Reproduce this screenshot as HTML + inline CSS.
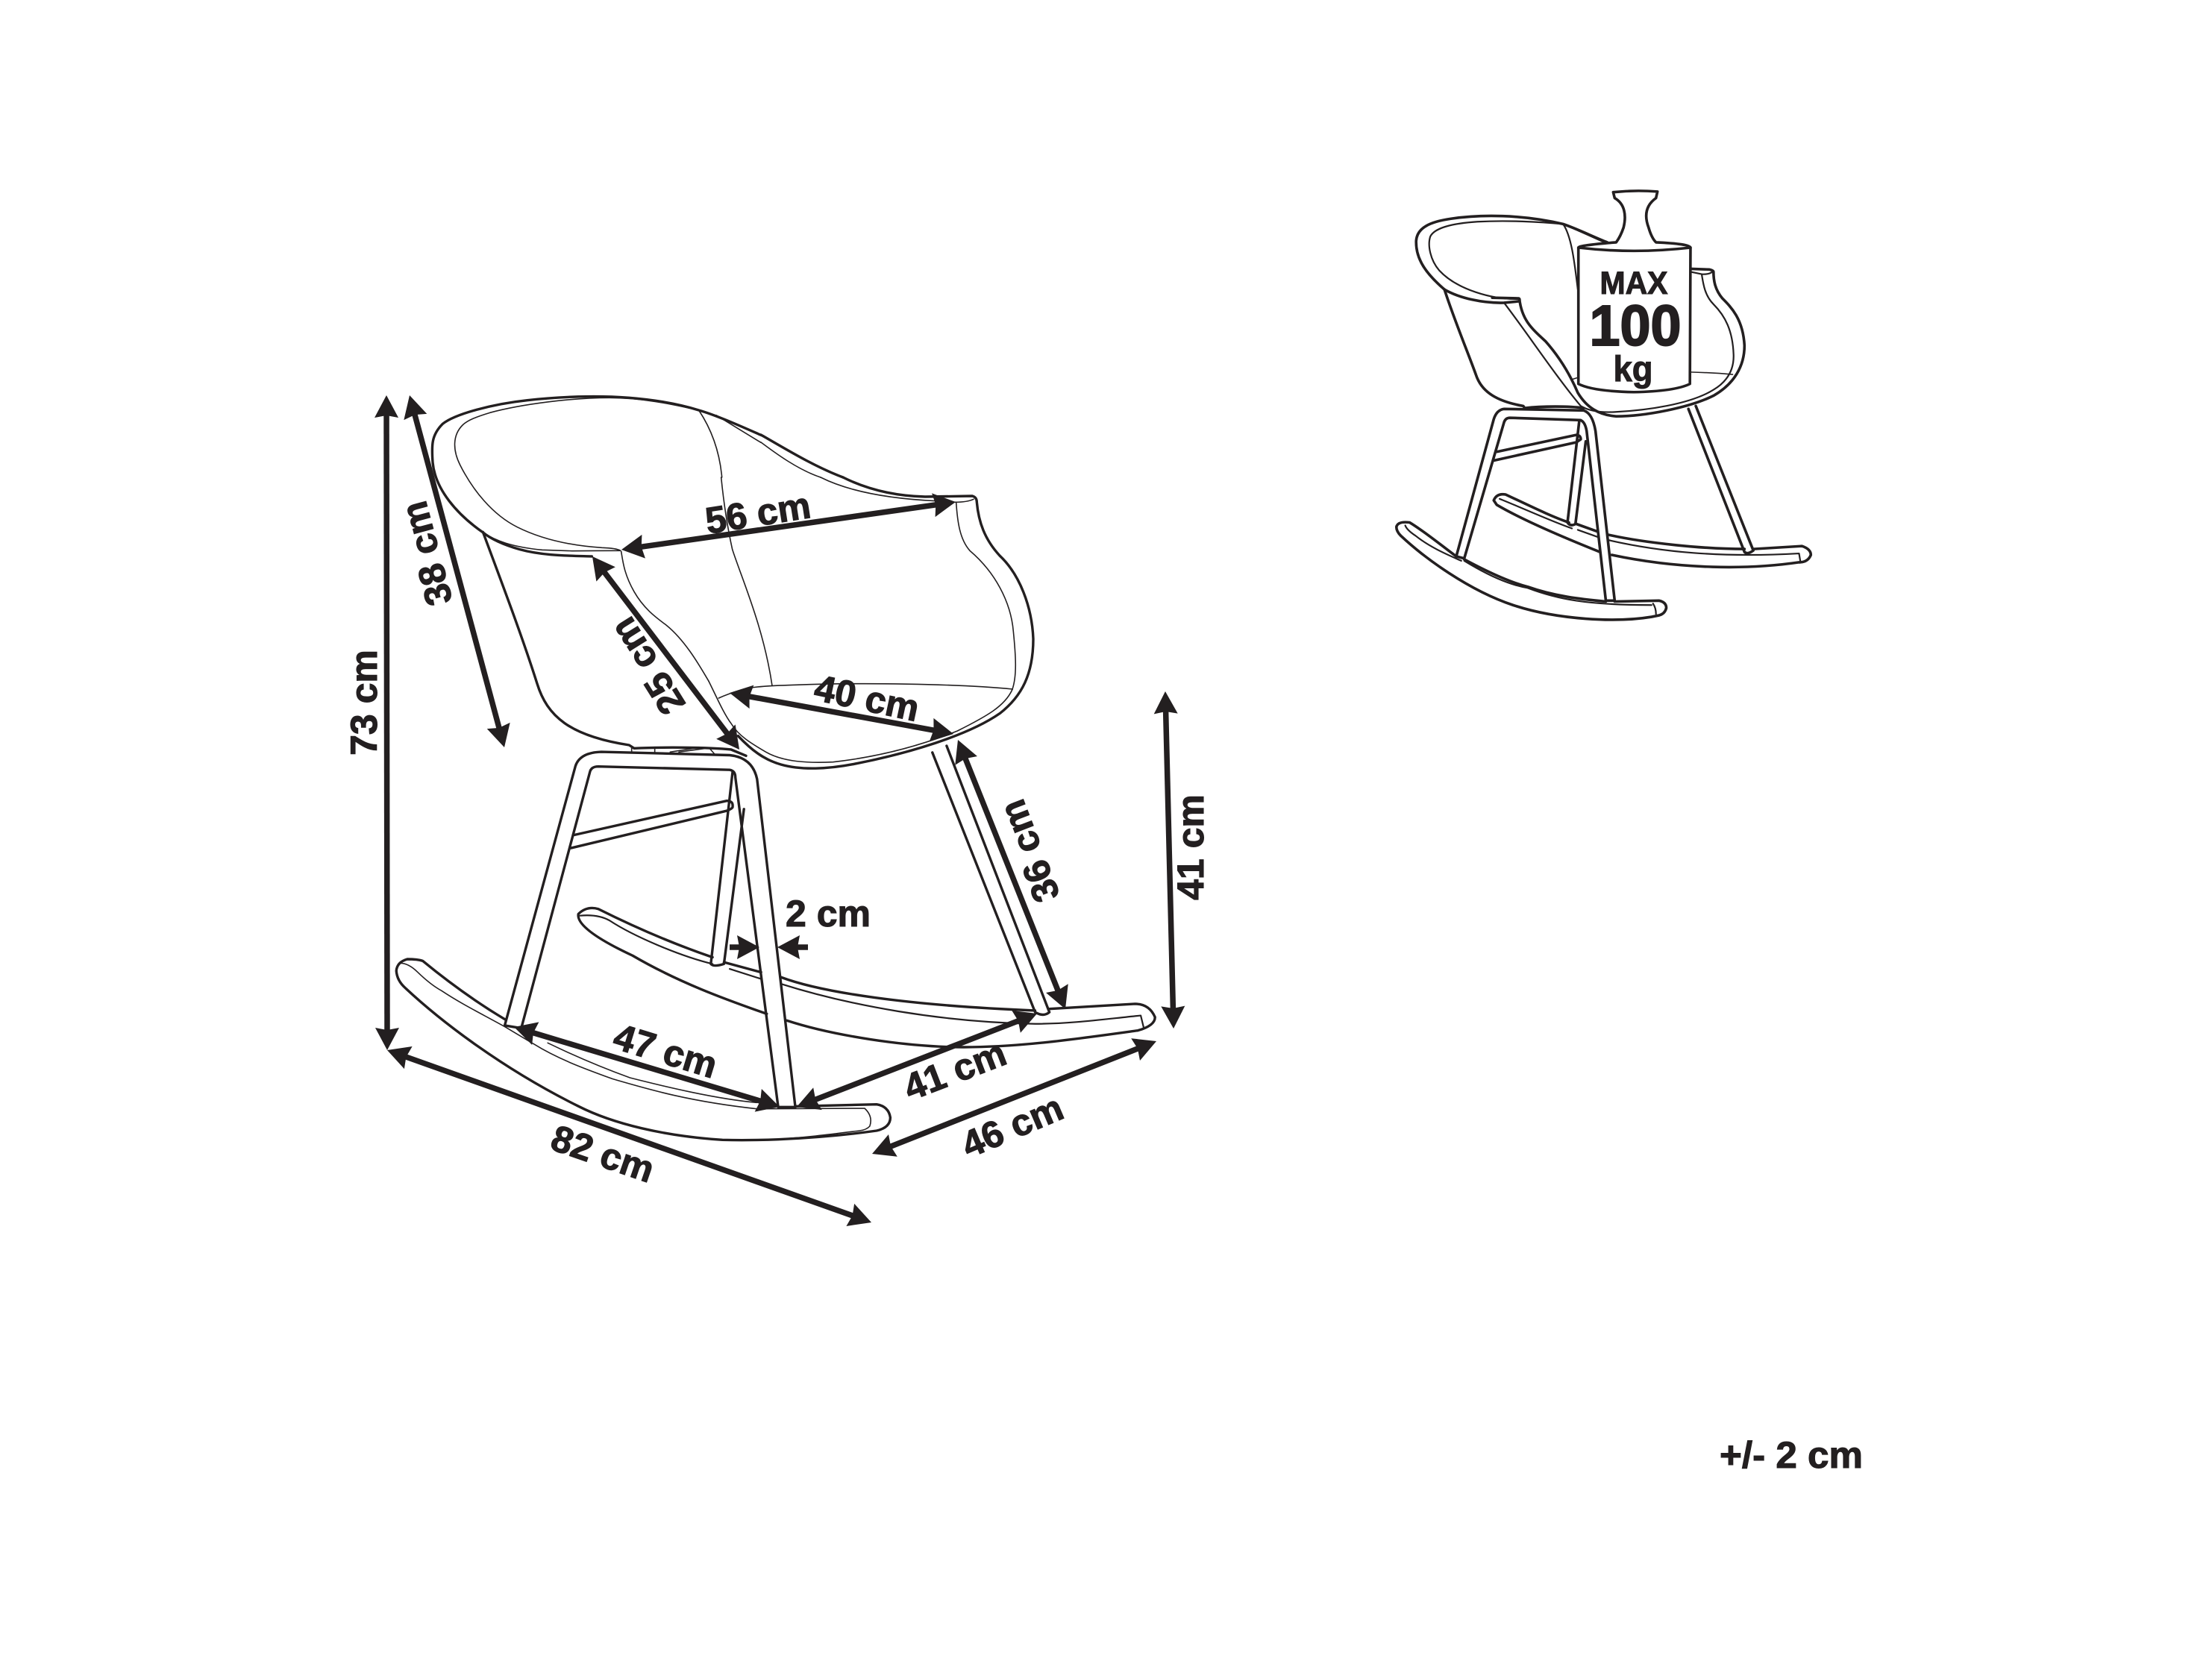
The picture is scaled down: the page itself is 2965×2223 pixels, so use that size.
<!DOCTYPE html>
<html>
<head>
<meta charset="utf-8">
<style>
html,body{margin:0;padding:0;background:#fff;width:2965px;height:2223px;overflow:hidden}
svg{display:block}
.o,.t,.s,.u{fill:none;stroke:#231f20;stroke-linecap:round;stroke-linejoin:round;vector-effect:non-scaling-stroke}
.o{stroke-width:3.4}
.t{stroke-width:1.6}
.s{stroke-width:3.6}
.u{stroke-width:2.2}
.a{stroke:#231f20;stroke-width:7.5;fill:none;marker-start:url(#h);marker-end:url(#h)}
.b{stroke:#231f20;stroke-width:7.5;fill:none;marker-end:url(#h)}
text{font-family:"Liberation Sans",sans-serif;font-weight:700;font-size:50px;fill:#231f20;stroke:#231f20;stroke-width:1.1px;text-anchor:middle}
</style>
</head>
<body>
<svg xmlns="http://www.w3.org/2000/svg" width="2965" height="2223" viewBox="0 0 2965 2223">
<defs>
<marker id="h" markerUnits="userSpaceOnUse" markerWidth="32" markerHeight="34" refX="20" refY="16" orient="auto-start-reverse" overflow="visible">
<path d="M0,0 L30,16 L0,32 L3,16 Z" fill="#231f20"/>
</marker>
</defs>
<rect width="2965" height="2223" fill="#fff"/>

<!-- Main chair shell, left part -->
<g transform="translate(500 500) scale(.33333)">
<path class="o" d="M880,738 C780,735 680,735 590,710 C520,690 470,665 440,640 C340,570 250,470 240,360 C235,290 235,250 280,205 C330,165 480,125 620,110 C750,95 900,90 1030,100 C1130,108 1230,125 1310,150 C1380,170 1480,215 1560,250"/>
<path class="t" d="M995,715 Q980,705 920,703 C800,695 680,670 580,620 C480,570 400,470 350,370 C320,310 320,250 360,210 C380,190 420,175 470,160 C600,125 800,100 950,100 C1080,100 1200,125 1310,150"/>
<path class="t" d="M440,640 C490,675 560,700 680,712 L800,716 Q900,715 995,715"/>
<path class="t" d="M1310,150 C1370,240 1395,330 1403,420"/>
<path class="t" d="M1380,170 L1560,280"/>
<path class="o" d="M442,640 C520,850 600,1060 660,1250 C700,1380 790,1460 1030,1497 L1050,1510 C1150,1505 1350,1505 1440,1515 L1500,1540"/>
<path class="t" d="M998,718 C1005,760 1010,810 1050,880 C1090,950 1140,985 1180,1015 C1260,1080 1320,1190 1350,1240"/>
<path class="t" d="M1040,1510 L1040,1525 M1133,1505 L1133,1525 M1195,1525 L1290,1510 M1230,1525 L1340,1510 M1355,1512 L1375,1535"/>
</g>
<!-- bridge between crops -->
<path class="o" d="M1020,583 C1050,600 1090,625 1130,640"/>
<path class="t" d="M1020,593 C1040,608 1070,630 1100,640"/>

<!-- Main chair shell, right part -->
<g transform="translate(950 640) scale(.33333)">
<path class="o" d="M540,0 C640,50 750,75 870,78 L1060,75 Q1078,80 1078,100 C1085,180 1110,250 1170,315 C1250,390 1300,520 1305,650 C1305,790 1260,880 1170,950 C1040,1040 800,1110 600,1150 C480,1175 370,1178 290,1155 C220,1135 170,1095 118,1040"/>
<path class="t" d="M450,0 C550,50 700,85 915,95 L990,100 Q1040,100 1065,88"/>
<path class="t" d="M995,100 C1000,180 1010,250 1050,295 C1150,380 1215,500 1225,620 C1235,720 1240,800 1220,855 C1190,920 1120,960 1000,1020 C850,1080 680,1125 500,1145 C400,1150 300,1145 230,1105 C170,1070 120,1040 90,990 C60,950 30,880 0,820"/>
<path class="t" d="M50,0 C60,100 75,200 95,290 C130,400 220,600 255,838"/>
<path class="t" d="M40,888 Q80,870 130,855 C180,840 260,838 350,835 C600,825 1000,830 1222,852"/>
</g>

<!-- Main chair base -->
<g transform="translate(450 1000) scale(.7653 .4464)">
<path class="o" d="M296,840 L420,60 Q428,20 465,18 L690,28 Q730,35 738,100 L805,1085 L775,1085 L700,95 Q700,75 690,72 L460,62 Q447,62 445,80 L325,848 L296,840"/>
<path class="o" d="M417,268 L685,165 Q697,165 695,185 Q693,190 685,195 L412,307"/>
<path class="o" d="M695,80 L657,655 Q662,665 680,655 L715,190"/>
<path class="o" d="M1045,20 L1225,800 Q1240,815 1250,800 L1070,0"/>
<path class="o" d="M660,635 C600,600 530,550 460,490 Q440,480 425,505 Q420,550 520,630 C600,710 680,760 755,805 M790,825 C870,870 1000,905 1100,905 C1200,905 1300,880 1405,855 Q1435,840 1435,815 Q1425,775 1400,775 L1250,790 M1225,795 C1000,780 850,740 780,695 M745,680 L680,650"/>
<path class="o" style="stroke-width:2.2" d="M428,510 Q460,505 480,525 C520,570 600,630 660,655 M690,670 L745,700 M780,715 C900,780 1060,830 1225,835 C1290,835 1350,820 1410,810 L1415,845"/>
</g>

<!-- Front rocker -->
<g transform="translate(500 1260) scale(.4592 .33333)">
<path class="o" d="M385,320 C300,250 220,170 145,85 Q130,78 100,78 Q70,90 68,125 Q70,165 95,195 C200,330 380,520 600,670 C700,740 850,790 1020,805 C1160,810 1330,795 1470,768 Q1510,755 1510,715 Q1505,670 1470,662 L1235,670"/>
<path class="t" d="M75,95 Q100,90 130,130 C160,170 180,190 200,205 C260,260 320,300 385,350 L470,420 C540,480 620,520 700,560 C800,600 920,650 1120,680 L1435,678 Q1460,710 1450,750 Q1440,765 1420,768 C1350,780 1270,795 1170,803"/>
<path class="t" d="M510,415 C570,455 660,510 750,555 C850,590 1000,640 1120,655"/>
</g>

<!-- Dimension arrows -->
<line class="a" x1="518" y1="540" x2="519" y2="1398"/>
<line class="a" x1="551.6" y1="539.7" x2="673.4" y2="992.3"/>
<line class="a" x1="842.9" y1="735.6" x2="1271.1" y2="674.4"/>
<line class="a" x1="800" y1="754" x2="985" y2="997"/>
<line class="a" x1="987.8" y1="930.8" x2="1268.2" y2="982.2"/>
<line class="a" x1="1287.7" y1="1001.3" x2="1424.3" y2="1343.7"/>
<line class="a" x1="1562.2" y1="937" x2="1572.8" y2="1369"/>
<line class="a" x1="698.6" y1="1379.9" x2="1035.4" y2="1481.1"/>
<line class="a" x1="1077.3" y1="1480.4" x2="1380.7" y2="1362.6"/>
<line class="a" x1="1178.3" y1="1543.3" x2="1540.7" y2="1399.7"/>
<line class="a" x1="528.4" y1="1411.4" x2="1158.6" y2="1635.6"/>
<line class="b" x1="978" y1="1270" x2="1008" y2="1270"/>
<line class="b" x1="1083" y1="1270" x2="1052" y2="1270"/>

<!-- Dimension labels -->
<text transform="translate(1016 688) rotate(-9)" y="17">56 cm</text>
<text transform="translate(488 942) rotate(-90)" y="17">73 cm</text>
<text transform="translate(572 742) rotate(-105)" y="17">38 cm</text>
<text transform="translate(868 893) rotate(-122)" y="17">25 cm</text>
<text transform="translate(1162 936) rotate(12)" y="17">40 cm</text>
<text transform="translate(1380 1141) rotate(-111)" y="17">36 cm</text>
<text transform="translate(1596 1136) rotate(-90)" y="17">41 cm</text>
<text transform="translate(1110 1225)" y="17">2 cm</text>
<text transform="translate(892 1409) rotate(17)" y="17">47 cm</text>
<text transform="translate(1280 1435) rotate(-21)" y="17">41 cm</text>
<text transform="translate(1357 1510) rotate(-23)" y="17">46 cm</text>
<text transform="translate(808 1547) rotate(19)" y="17">82 cm</text>
<text x="2401" y="1968" textLength="192" lengthAdjust="spacingAndGlyphs">+/- 2 cm</text>

<!-- Small chair -->
<g transform="translate(1850 230) scale(.3954)">
<path class="s" d="M218,400 C160,350 120,300 122,235 C125,190 170,170 240,160 C340,145 480,145 620,178 C670,195 730,225 770,240"/>
<path class="u" d="M470,432 C380,435 260,400 200,335 C170,300 160,250 170,220 C185,190 250,175 330,170 C430,165 540,170 620,178"/>
<path class="s" d="M218,400 C270,430 350,447 420,445 L470,440 Q475,435 470,430 L380,428"/>
<path class="u" d="M620,178 C650,220 660,320 670,400 M660,195 L760,240"/>
<path class="s" d="M472,432 C480,500 510,530 560,575 C600,620 640,680 670,750 C700,800 740,825 800,830 C900,830 1050,800 1130,760 C1200,720 1235,660 1235,590 C1230,500 1190,460 1160,430 C1135,400 1130,370 1130,340 Q1130,335 1115,332 L1052,330"/>
<path class="u" d="M420,445 C500,550 600,700 680,795 Q720,820 800,815 C900,810 1050,790 1130,740 C1180,710 1200,670 1198,620 C1195,540 1170,490 1130,450 C1100,420 1095,380 1090,348 L1052,340 M1090,348 Q1115,350 1130,338"/>
<path class="t" d="M1050,680 Q1130,682 1195,688 M650,705 L672,698"/>
<path class="s" d="M218,400 C250,500 300,620 325,690 C345,750 400,780 485,795 L490,802 C550,795 640,795 690,802"/>
<path class="s" d="M258,1305 L385,840 Q395,808 420,805 L690,810 Q720,820 730,880 L795,1455 L765,1455 L700,880 Q695,850 680,843 L440,835 Q425,835 420,850 L285,1312 L258,1305"/>
<path class="s" d="M397,950 L665,893 Q680,895 680,908 L665,918 L385,980"/>
<path class="s" d="M675,845 L635,1190 Q645,1205 662,1195 L697,915"/>
<path class="s" d="M1045,805 L1235,1290 Q1245,1300 1265,1285 L1070,795"/>
<path class="s" d="M640,1190 C580,1170 500,1130 425,1095 Q395,1090 385,1115 L395,1130 C480,1180 620,1240 745,1290 M785,1300 C1020,1350 1250,1350 1420,1325 Q1450,1325 1460,1300 Q1460,1280 1430,1270 L1265,1280 M1235,1280 C1100,1280 900,1260 775,1232 M735,1220 L665,1195"/>
<path class="u" d="M405,1110 C480,1140 590,1190 650,1210 M670,1215 L740,1240 M775,1250 C950,1290 1150,1310 1420,1295 L1425,1325"/>
<path class="s" d="M258,1305 C210,1270 150,1220 100,1190 Q60,1185 55,1205 Q55,1220 70,1235 C150,1310 300,1420 450,1470 C600,1520 800,1530 920,1510 L945,1505 Q965,1500 970,1480 Q970,1460 945,1455 L795,1458"/>
<path class="s" d="M285,1315 C350,1350 430,1390 500,1408 C590,1440 680,1450 765,1458"/>
<path class="u" d="M85,1200 Q90,1215 120,1235 C170,1275 230,1300 275,1320 M285,1320 C350,1360 430,1400 500,1412 C600,1450 700,1470 920,1470 M925,1465 Q935,1480 935,1500"/>
<path class="s" style="fill:#fff" d="M672,258 Q672,250 800,240 Q815,220 825,190 C835,150 830,110 795,90 L790,70 Q865,62 940,68 L935,90 C900,115 895,150 910,190 Q920,225 935,240 Q1050,245 1052,258 L1050,720 Q1000,745 860,748 Q720,745 672,720 Z"/>
<path class="s" d="M672,258 Q860,280 1052,258"/>
</g>
<text x="2190" y="394" style="font-size:43px" textLength="91" lengthAdjust="spacingAndGlyphs">MAX</text>
<text x="2192" y="463" style="font-size:77px;stroke-width:2px" textLength="123" lengthAdjust="spacingAndGlyphs">100</text>
<text x="2189" y="511" style="font-size:48px" textLength="53" lengthAdjust="spacingAndGlyphs">kg</text>
</svg>
</body>
</html>
